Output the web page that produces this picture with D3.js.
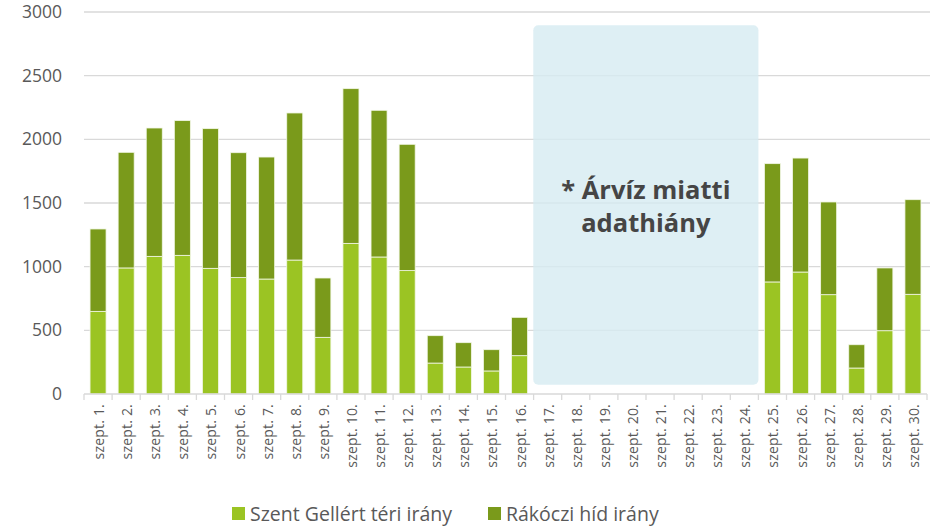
<!DOCTYPE html>
<html>
<head>
<meta charset="utf-8">
<script src="https://cdn.jsdelivr.net/npm/d3@7"></script>
<style>
  body { margin: 0; background: #fff; }
  svg { font-family: "Open Sans", "Noto Sans", sans-serif; }
</style>
</head>
<body>
<div id="chart"></div>
<script>
const days = d3.range(1, 31).map(d => `szept. ${d}.`);
// Szent Gellért téri irány
const gellert = [649, 990, 1081, 1089, 987, 914, 903, 1052, 445, 1183, 1076, 969, 243, 212, 181, 301,
  null, null, null, null, null, null, null, null, 880, 958, 780, 204, 497, 783];
// Rákóczi híd irány
const rakoczi = [647, 908, 1008, 1058, 1097, 981, 958, 1155, 466, 1215, 1152, 992, 215, 191, 167, 301,
  null, null, null, null, null, null, null, null, 929, 895, 728, 183, 493, 743];
const yTicks = [0, 500, 1000, 1500, 2000, 2500, 3000];
const seriesNames = ["Szent Gellért téri irány", "Rákóczi híd irány"];
const colors = ["#9bc423", "#7a9a1b"];
const gapDays = ["szept. 17.", "szept. 24."];

const width = 930, height = 529;
const margin = { top: 12, right: 3, bottom: 135, left: 84 };

const svg = d3.select("#chart").append("svg")
  .attr("width", width)
  .attr("height", height);

const x = d3.scaleBand()
  .domain(days)
  .range([margin.left, width - margin.right])
  .paddingInner(0.43)
  .paddingOuter(0.215);

const y = d3.scaleLinear()
  .domain([0, 3000])
  .range([height - margin.bottom, margin.top]);

// grid
svg.append("g")
  .selectAll("line")
  .data(yTicks.filter(d => d > 0))
  .join("line")
  .attr("x1", margin.left)
  .attr("x2", width)
  .attr("y1", d => y(d))
  .attr("y2", d => y(d))
  .attr("stroke", "#d9d9d9")
  .attr("stroke-width", 1.3);

// y labels
svg.append("g")
  .selectAll("text")
  .data(yTicks)
  .join("text")
  .attr("x", 62)
  .attr("y", d => y(d))
  .attr("dy", "0.35em")
  .attr("text-anchor", "end")
  .attr("fill", "#595959")
  .attr("font-size", 17.5)
  .text(d => d);

// stacked bars
const rows = days.map((d, i) => ({ day: d, g: gellert[i], r: rakoczi[i] }));
const stack = d3.stack().keys(["g", "r"]).value((d, k) => d[k] || 0);
const layers = stack(rows);

svg.append("g")
  .selectAll("g")
  .data(layers)
  .join("g")
  .attr("fill", (d, i) => colors[i])
  .selectAll("rect")
  .data(d => d.filter(p => p.data.g !== null))
  .join("rect")
  .attr("x", d => x(d.data.day))
  .attr("width", x.bandwidth())
  .attr("y", d => y(d[1]))
  .attr("height", d => y(d[0]) - y(d[1]))
  .attr("stroke", "#f2f7e6")
  .attr("stroke-width", 0.8);

// annotation box for missing data
const step = x.step();
const bx0 = x(gapDays[0]) - x.paddingInner() * step / 2 - x.bandwidth() * 0.02;
const bx1 = x(gapDays[1]) + x.bandwidth() + x.paddingInner() * step / 2;
svg.append("rect")
  .attr("x", bx0)
  .attr("y", y(2895))
  .attr("width", bx1 - bx0)
  .attr("height", y(73) - y(2895))
  .attr("rx", 5)
  .attr("fill", "#d6ebf1")
  .attr("fill-opacity", 0.8);

const note = svg.append("text")
  .attr("x", (bx0 + bx1) / 2)
  .attr("y", 199)
  .attr("text-anchor", "middle")
  .attr("fill", "#454545")
  .attr("font-weight", "bold")
  .attr("font-size", 25.5);
note.append("tspan").attr("x", (bx0 + bx1) / 2).text("* Árvíz miatti");
note.append("tspan").attr("x", (bx0 + bx1) / 2).attr("dy", 33).text("adathiány");

// x axis
const base = y(0);
svg.append("line")
  .attr("x1", margin.left)
  .attr("x2", width - margin.right)
  .attr("y1", base)
  .attr("y2", base)
  .attr("stroke", "#d9d9d9")
  .attr("stroke-width", 1.3);

svg.append("g")
  .selectAll("line")
  .data(d3.range(days.length + 1))
  .join("line")
  .attr("x1", i => margin.left + i * step)
  .attr("x2", i => margin.left + i * step)
  .attr("y1", base)
  .attr("y2", base + 6)
  .attr("stroke", "#d9d9d9")
  .attr("stroke-width", 1.3);

svg.append("g")
  .selectAll("text")
  .data(days)
  .join("text")
  .attr("transform", d => `translate(${x(d) + x.bandwidth() / 2 + 6},${base + 10}) rotate(-90)`)
  .attr("text-anchor", "end")
  .attr("fill", "#595959")
  .attr("font-size", 14)
  .attr("letter-spacing", 0.2)
  .text(d => d);

// legend
const legend = svg.append("g");
const legendX = [232, 488];
seriesNames.forEach((name, i) => {
  legend.append("rect")
    .attr("x", legendX[i])
    .attr("y", 507)
    .attr("width", 13)
    .attr("height", 13)
    .attr("fill", colors[i]);
  legend.append("text")
    .attr("x", legendX[i] + 18)
    .attr("y", 521)
    .attr("fill", "#595959")
    .attr("font-size", 19.5)
    .text(name);
});
</script>
</body>
</html>
